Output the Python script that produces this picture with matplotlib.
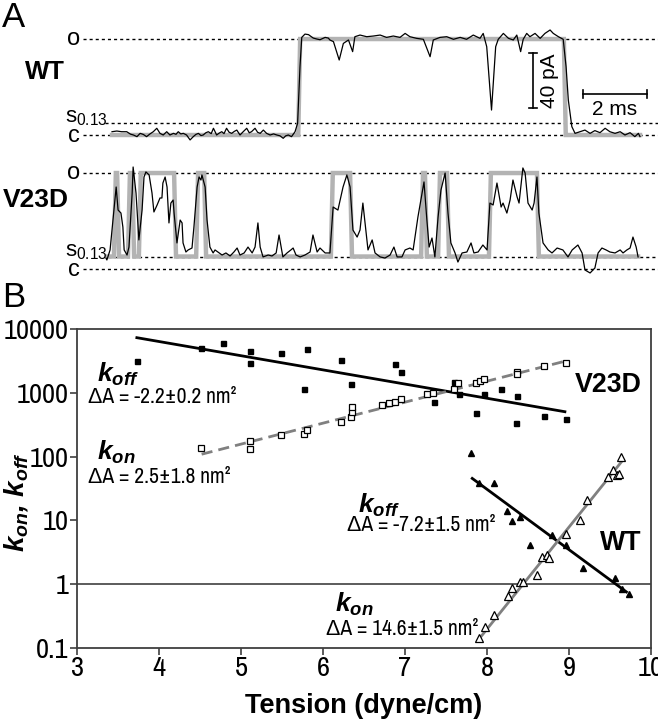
import numpy as np
import matplotlib
matplotlib.use("Agg")
import matplotlib.pyplot as plt
from matplotlib import font_manager
from matplotlib.ticker import NullLocator

# fonts: narrow sans for numbers if available
names = {f.name for f in font_manager.fontManager.ttflist}
NARROW = 'Liberation Sans'
for cand in ('Liberation Sans Narrow', 'Archivo Narrow'):
    if cand in names:
        NARROW = cand
        break
NARROW_LIST = [NARROW, 'Liberation Sans', 'DejaVu Sans']
plt.rcParams['font.family'] = ['Liberation Sans', 'DejaVu Sans']
plt.rcParams['mathtext.fontset'] = 'custom'
plt.rcParams['mathtext.rm'] = 'Liberation Sans'
plt.rcParams['mathtext.bf'] = 'Liberation Sans:italic:bold'
plt.rcParams['mathtext.it'] = 'Liberation Sans:italic'

# ---------------- panel A data (time in ms, current in pA) ----------------
open_pA = 70.0
sub_pA = 0.13 * open_pA

wt_trace = [
    (3.50, 2.4), (3.65, 2.9), (3.80, 2.4), (3.96, 2.4), (4.08, 0.6), (4.17, 0.0), (4.28, -1.2),
    (4.38, 1.2), (4.48, 0.4), (4.58, -1.2), (4.70, 1.0), (4.79, 2.4), (4.90, 4.9), (5.00, 1.2),
    (5.10, 0.0), (5.21, 2.4), (5.31, 0.0), (5.42, 1.2), (5.50, 0.5), (5.57, 2.4), (5.65, 0.8),
    (5.73, 1.2), (5.83, 0.0), (5.94, -3.6), (6.04, -1.2), (6.12, 0.4), (6.20, 1.2), (6.28, -0.4),
    (6.35, 0.0), (6.43, 1.6), (6.51, 2.4), (6.60, 1.0), (6.67, 4.9), (6.77, 0.0), (6.85, 1.4),
    (6.93, 2.4), (7.00, 1.0), (7.08, 4.9), (7.16, 2.0), (7.24, 1.2), (7.32, 2.6), (7.40, 3.6),
    (7.50, 0.0), (7.60, 2.4), (7.71, 4.9), (7.79, 1.6), (7.86, 2.4), (7.97, 4.9), (8.05, 2.0),
    (8.13, 1.2), (8.23, 3.6), (8.33, 1.2), (8.44, 0.0), (8.55, 0.8), (8.65, 0.0), (8.75, -0.6),
    (8.85, -2.4), (8.93, -0.6), (9.01, 0.0), (9.11, -1.2), (9.22, 2.4), (9.30, 8.5), (9.375, 50.0),
    (9.43, 71.2), (9.53, 73.6), (9.64, 73.2), (9.79, 70.7), (9.90, 70.0), (10.00, 69.5),
    (10.16, 71.2), (10.26, 70.7), (10.31, 69.3), (10.42, 68.1), (10.60, 54.7), (10.73, 66.8),
    (10.89, 69.3), (11.02, 60.8), (11.09, 71.7), (11.25, 72.9), (11.46, 71.7), (11.67, 72.2),
    (11.88, 72.9), (12.08, 71.2), (12.29, 72.2), (12.50, 71.2), (12.66, 74.1), (12.81, 71.7),
    (13.02, 70.5), (13.23, 69.8), (13.44, 57.1), (13.54, 69.3), (13.75, 71.2), (13.96, 71.7),
    (14.17, 69.8), (14.38, 71.2), (14.58, 69.8), (14.79, 72.9), (15.00, 70.5), (15.10, 74.1),
    (15.21, 64.4), (15.36, 18.2), (15.49, 64.4), (15.57, 69.8), (15.73, 74.1), (15.89, 70.5),
    (16.04, 69.3), (16.15, 72.9), (16.27, 60.8), (16.35, 69.8), (16.46, 74.1), (16.56, 71.7),
    (16.72, 74.1), (16.88, 70.5), (17.03, 74.1), (17.19, 76.6), (17.29, 74.1), (17.45, 71.7),
    (17.60, 69.8), (17.69, 49.8), (17.76, 25.5), (17.87, 6.1), (17.97, 1.2), (18.13, 2.4),
    (18.28, 3.6), (18.44, 1.2), (18.59, 3.2), (18.75, 1.7), (18.91, 4.9), (19.06, 2.4),
    (19.22, 1.2), (19.38, 2.4), (19.53, 0.0), (19.69, 1.7), (19.84, -1.2), (19.95, 1.2), (20.00, -1.2),
]
wt_open_intervals = [(9.32, 17.62)]
wt_span = (3.5, 20.0)

v23d_trace = [
    (3.31, 8.0), (3.34, 6.6), (3.44, 13.9), (3.53, 35.7), (3.63, 59.8), (3.69, 43.0), (3.78, 40.8),
    (3.84, 30.6), (3.88, 13.9), (3.97, 10.2), (4.03, 16.0), (4.13, 55.4), (4.16, 74.4), (4.25, 55.4),
    (4.34, 21.2), (4.44, 43.0), (4.50, 67.1), (4.56, 70.8), (4.66, 68.6), (4.75, 55.4), (4.81, 41.6),
    (4.91, 46.7), (5.00, 51.8), (5.06, 51.8), (5.09, 62.7), (5.16, 67.1), (5.22, 59.8), (5.28, 33.6),
    (5.34, 48.1), (5.41, 50.3), (5.44, 40.8), (5.53, 19.0), (5.63, 35.7), (5.69, 33.6), (5.72, 19.0),
    (5.81, 12.4), (5.88, 13.9), (6.00, 15.3), (6.06, 30.6), (6.16, 59.8), (6.22, 67.1), (6.28, 64.9),
    (6.31, 68.6), (6.41, 59.8), (6.47, 35.7), (6.56, 16.0), (6.66, 11.7), (6.72, 13.9), (6.81, 12.4),
    (6.94, 10.2), (7.06, 11.7), (7.19, 9.5), (7.31, 12.4), (7.41, 15.3), (7.50, 10.2), (7.63, 11.7),
    (7.75, 16.0), (7.88, 11.7), (7.97, 16.0), (8.06, 33.6), (8.13, 16.0), (8.22, 8.8), (8.38, 10.2),
    (8.50, 9.5), (8.63, 11.7), (8.72, 24.8), (8.84, 8.8), (8.97, 11.7), (9.09, 13.9), (9.16, 15.3),
    (9.25, 10.2), (9.38, 8.8), (9.53, 10.2), (9.69, 12.4), (9.78, 24.8), (9.91, 12.4), (10.00, 15.3),
    (10.16, 11.7), (10.31, 11.7), (10.41, 45.2), (10.56, 43.0), (10.72, 59.8), (10.84, 68.6),
    (10.94, 59.8), (11.03, 28.4), (11.16, 23.3), (11.25, 28.4), (11.34, 48.1), (11.44, 26.3),
    (11.50, 13.9), (11.63, 21.2), (11.72, 11.7), (11.88, 8.8), (12.03, 8.0), (12.19, 10.2),
    (12.31, 16.0), (12.41, 8.8), (12.56, 8.8), (12.66, 13.9), (12.81, 15.3), (12.91, 13.9),
    (13.00, 28.4), (13.06, 37.9), (13.19, 55.4), (13.25, 63.5), (13.34, 35.7), (13.41, 16.0),
    (13.50, 22.6), (13.59, 8.8), (13.69, 37.9), (13.78, 57.6), (13.91, 70.0), (14.00, 40.8),
    (14.09, 19.0), (14.22, 11.7), (14.31, 5.1), (14.44, 11.7), (14.59, 12.4), (14.72, 19.0),
    (14.81, 11.7), (14.94, 12.4), (15.09, 17.5), (15.22, 13.9), (15.31, 48.1), (15.41, 46.7),
    (15.53, 62.7), (15.66, 45.2), (15.72, 48.1), (15.84, 40.8), (15.94, 50.3), (16.03, 64.9),
    (16.16, 52.5), (16.22, 48.1), (16.34, 73.7), (16.41, 70.0), (16.50, 48.1), (16.63, 43.0),
    (16.69, 48.1), (16.78, 67.1), (16.84, 40.8), (16.97, 19.0), (17.13, 13.9), (17.25, 11.7),
    (17.41, 15.3), (17.59, 13.9), (17.75, 8.8), (17.88, 13.9), (18.06, 17.5), (18.19, 11.7),
    (18.28, -0.7), (18.44, -2.9), (18.59, 0.7), (18.69, 11.7), (18.81, 15.3), (18.94, 13.9),
    (19.06, 12.4), (19.22, 11.7), (19.38, 13.9), (19.47, 11.7), (19.59, 13.9), (19.69, 15.3),
    (19.78, 23.3), (19.88, 16.0), (19.94, 8.8),
]
v23d_open_intervals = [(3.56, 3.66), (4.0, 4.13), (4.34, 5.44), (6.13, 6.38), (10.34, 10.94),
                       (13.16, 13.28), (13.69, 13.97), (15.28, 16.78)]
v23d_span = (3.38, 19.94)

scale_t_ms = 2
scale_i_pA = 40

# ---------------- panel B data ----------------
v23d_koff_x = [3.73, 4.51, 4.78, 5.11, 5.11, 5.49, 5.81, 5.77, 6.22, 6.34, 6.88, 6.95, 7.35,
               7.60, 7.66, 7.87, 7.96, 8.17, 8.35, 8.37, 8.70, 8.96]
v23d_koff_y = [3184, 5090, 5970, 4570, 2897, 4160, 4805, 1145, 3265, 1372, 2794, 2094, 724,
               1490, 956, 487, 956, 1132, 339, 889, 432, 392]
v23d_kon_x = [4.51, 5.11, 5.11, 5.49, 5.77, 5.81, 6.22, 6.34, 6.35, 6.35, 6.72, 6.81, 6.88,
              6.95, 7.27, 7.34, 7.60, 7.65, 7.87, 7.91, 7.96, 8.36, 8.37, 8.70, 8.96]
v23d_kon_y = [137, 175, 133, 217, 223, 260, 348, 421, 505, 604, 643, 683, 729, 812, 946, 991,
              1133, 1438, 1438, 1528, 1625, 2139, 1968, 2630, 2897]
wt_koff_x = [7.81, 7.90, 8.08, 8.24, 8.31, 8.40, 8.52, 8.79, 8.96, 9.17, 9.56, 9.65, 9.73]
wt_koff_y = [115, 38.8, 38.8, 14.0, 9.73, 11.4, 4.09, 5.87, 4.09, 1.80, 1.27, 0.826, 0.69]
wt_kon_x = [7.90, 7.98, 8.08, 8.25, 8.31, 8.40, 8.44, 8.61, 8.67, 8.73, 8.75, 8.96, 9.13, 9.22,
            9.47, 9.54, 9.58, 9.61, 9.64]
wt_kon_y = [0.141, 0.214, 0.335, 0.648, 0.857, 1.087, 1.087, 1.384, 2.65, 2.85, 2.62, 6.09,
            10.3, 21.2, 48.2, 61.4, 51.3, 52.6, 99.3]

# exponential fits (end points of the fitted lines)
v23d_koff_fit = ([3.73, 8.95], [7310, 505])
v23d_kon_fit = ([4.52, 8.96], [109, 3148])
wt_koff_fit = ([7.82, 9.70], [45.5, 0.757])
wt_kon_fit = ([7.89, 9.64], [0.132, 82.9])

y_ticks = [0.1, 1, 10, 100, 1000, 10000]
y_ticklabels = ['0.1', '1', '10', '100', '1000', '10000']
x_ticks = [3, 4, 5, 6, 7, 8, 9, 10]

# ---------------- figure ----------------
W, H = 658, 720
fig = plt.figure(figsize=(W / 100, H / 100), dpi=100)

# Panel A: axes in ms / pA
PX_PER_MS = 32.0
PX_PER_PA = 1.371
A_H = 290
axA = fig.add_axes([0, 1 - A_H / H, 1, A_H / H])
axA.set_xlim(0, W / PX_PER_MS)
axA.set_ylim((135 - A_H) / PX_PER_PA, 135 / PX_PER_PA)
axA.axis('off')

gray = '#b3b3b3'
dot = (0, (2.2, 2.2))


def idealized(span, intervals, lo, hi, ramp=0.06):
    t = [span[0]]
    y = [lo]
    for a, b in intervals:
        t += [a, a + ramp, b, b + ramp]
        y += [lo, hi, hi, lo]
    t.append(span[1])
    y.append(lo)
    return np.array(t), np.array(y)


def draw_trace(offset, trace, intervals, span, lo, s_line_start):
    x0 = 83 / PX_PER_MS
    x1 = W / PX_PER_MS
    axA.plot([x0, x1], [offset + open_pA] * 2, color='black', lw=1.0, ls=dot)
    axA.plot([s_line_start, x1], [offset + sub_pA] * 2, color='black', lw=1.0, ls=dot)
    axA.plot([x0, x1], [offset] * 2, color='black', lw=1.0, ls=dot)
    ti, yi = idealized(span, intervals, lo, open_pA)
    axA.plot(ti, yi + offset, color=gray, lw=3.2, solid_joinstyle='miter')
    t, i = zip(*trace)
    axA.plot(t, np.array(i) + offset, color='black', lw=0.9)
    lx = 74 / PX_PER_MS
    axA.text(lx, offset + open_pA - 4.6, 'o', fontsize=17, ha='center', va='baseline')
    axA.text(lx, offset - 5.0, 'c', fontsize=17, ha='center', va='baseline')
    axA.text(65 / PX_PER_MS, offset + sub_pA, r's$_{0.13}$', fontsize=16,
             ha='left', va='baseline')


wt_off = 0.0
v23d_off = (135 - 269) / PX_PER_PA
draw_trace(wt_off, wt_trace, wt_open_intervals, wt_span, 0.0, 105 / PX_PER_MS)
draw_trace(v23d_off, v23d_trace, v23d_open_intervals, v23d_span, sub_pA, 108 / PX_PER_MS)

# scale bars
vb_x = 16.66
vb_top = 59.8
axA.plot([vb_x, vb_x], [vb_top - scale_i_pA, vb_top], color='black', lw=1.2)
for yy in (vb_top - scale_i_pA, vb_top):
    axA.plot([vb_x - 0.13, vb_x + 0.13], [yy, yy], color='black', lw=1.2)
axA.text(vb_x + 0.22, vb_top - scale_i_pA / 2, '%d pA' % scale_i_pA, rotation=90,
         fontsize=15, ha='left', va='center')
hb_x0 = 18.22
hb_y = 29.9
axA.plot([hb_x0, hb_x0 + scale_t_ms], [hb_y, hb_y], color='black', lw=1.2)
for xx in (hb_x0, hb_x0 + scale_t_ms):
    axA.plot([xx, xx], [hb_y - 3, hb_y + 3], color='black', lw=1.2)
axA.text(hb_x0 + scale_t_ms / 2, hb_y - 4.5, '%d ms' % scale_t_ms, fontsize=15,
         ha='center', va='top')

fig.text(2 / W, 1 - 27 / H, 'A', fontsize=25, va='baseline', ha='left')
fig.text(25 / W, 1 - 79 / H, 'WT', fontsize=18.5, fontweight='bold', va='baseline')
fig.text(3 / W, 1 - 207 / H, 'V23D', fontsize=19, fontweight='bold', va='baseline')
fig.text(2 / W, 1 - 307 / H, 'B', fontsize=25, va='baseline', ha='left')

# Panel B
ax = fig.add_axes([77 / W, 1 - 648 / H, (651 - 77) / W, (648 - 329) / H])
ax.set_yscale('log')
ax.set_xlim(3, 10)
ax.set_ylim(0.1, 10000)
ax.set_xticks(x_ticks)
ax.set_xticklabels([str(v) for v in x_ticks], fontfamily=NARROW_LIST)
ax.set_yticks(y_ticks)
ax.set_yticklabels(y_ticklabels, fontfamily=NARROW_LIST)
ax.yaxis.set_minor_locator(NullLocator())
spine_c = '#3f3f3f'
for s in ax.spines.values():
    s.set_color(spine_c)
    s.set_linewidth(1.3)
ax.tick_params(direction='out', length=5, width=1.2, color=spine_c, labelsize=20.5, pad=1)
ax.axhline(1, color=spine_c, lw=1.2)

ax.plot(*v23d_koff_fit, color='black', lw=2.0)
ax.plot(*v23d_kon_fit, color='#808080', lw=2.0, ls=(0, (4, 2.2)))
ax.plot(*wt_koff_fit, color='black', lw=2.0)
ax.plot(*wt_kon_fit, color='#808080', lw=2.0)

ax.plot(v23d_koff_x, v23d_koff_y, 's', color='black', ms=3.6, ls='none')
ax.plot(v23d_kon_x, v23d_kon_y, 's', mfc='white', mec='black', mew=0.9, ms=4.6, ls='none')
ax.plot(wt_koff_x, wt_koff_y, '^', color='black', ms=4.6, ls='none')
ax.plot(wt_kon_x, wt_kon_y, '^', mfc='white', mec='black', mew=0.9, ms=5.8, ls='none')

kfs = 19
afs = 15.5
ax.text(3.244, 1475, r'$\mathbf{k}_{\mathbf{off}}$', fontsize=kfs, va='baseline')
ax.text(3.134, 690, 'ΔA = -2.2±0.2 nm²', fontsize=afs, family=NARROW_LIST, va='baseline')
ax.text(3.244, 88, r'$\mathbf{k}_{\mathbf{on}}$', fontsize=kfs, va='baseline')
ax.text(3.134, 38.4, 'ΔA = 2.5±1.8 nm²', fontsize=afs, family=NARROW_LIST, va='baseline')
ax.text(6.427, 13.0, r'$\mathbf{k}_{\mathbf{off}}$', fontsize=kfs, va='baseline')
ax.text(6.293, 6.78, 'ΔA = -7.2±1.5 nm²', fontsize=afs, family=NARROW_LIST, va='baseline')
ax.text(6.146, 0.364, r'$\mathbf{k}_{\mathbf{on}}$', fontsize=kfs, va='baseline')
ax.text(6.037, 0.158, 'ΔA = 14.6±1.5 nm²', fontsize=afs, family=NARROW_LIST, va='baseline')
ax.text(9.073, 1028, 'V23D', fontsize=19.3, fontweight='bold', va='baseline')
ax.text(9.378, 3.41, 'WT', fontsize=19.3, fontweight='bold', va='baseline')

fig.text(16 / W, 1 - 502 / H, r'$\mathbf{k}_{\mathbf{on}}\mathbf{,}\ \mathbf{k}_{\mathbf{off}}$',
         fontsize=20, rotation=90, ha='center', va='center')
fig.text(364 / W, 1 - 713 / H, 'Tension (dyne/cm)', fontsize=19.5, fontweight='bold',
         ha='center', va='baseline')

fig.savefig('out.png', dpi=100)
